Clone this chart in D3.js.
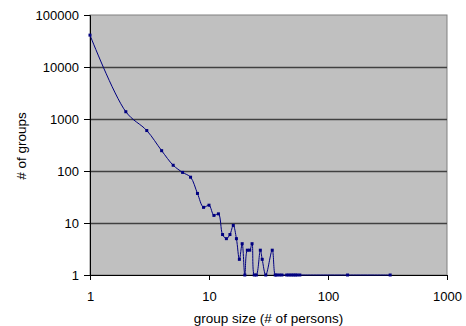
<!DOCTYPE html>
<html>
<head>
<meta charset="utf-8">
<script src="https://cdn.jsdelivr.net/npm/d3@7"></script>
<style>
    body { margin: 0; background: #ffffff; }
    svg text { font-family: "Liberation Sans", Arial, sans-serif; fill: #000; }
</style>
</head>
<body>
<div class="Chart"></div>
<script>
/* global d3 */

// group size (# of persons) and the number of groups of that size
const group_sizes = [1, 2, 3, 4, 5, 6, 7, 8, 9, 10, 11, 12, 13, 14, 15, 16, 17, 18, 19, 20,
    21, 22, 23, 24, 25, 27, 28, 30, 34, 36, 37, 39, 41, 45, 47, 49, 51, 53, 55, 58, 146, 333];
const group_counts = [41000, 1380, 600, 246, 129, 94, 76, 37, 20, 22, 14, 15, 6, 5, 6, 9, 5, 2, 4, 1,
    3, 3, 4, 1, 1, 3, 2, 1, 3, 1, 1, 1, 1, 1, 1, 1, 1, 1, 1, 1, 1, 1];

const x_ticks = [1, 10, 100, 1000];
const y_ticks = [1, 10, 100, 1000, 10000, 100000];

const x_title = "group size (# of persons)";
const y_title = "# of groups";

const width = 466;
const height = 326;
const margin = {top: 15, right: 19, bottom: 51, left: 90};

const plot_width = width - margin.left - margin.right;
const plot_height = height - margin.top - margin.bottom;

const svg = d3.select(".Chart")
    .append("svg")
    .attr("width", width)
    .attr("height", height);

const content = svg.append("g")
    .attr("transform", `translate(${margin.left},${margin.top})`);

const x_axis = d3.scaleLog()
    .domain([1, 1000])
    .range([0, plot_width]);

const y_axis = d3.scaleLog()
    .domain([1, 100000])
    .range([plot_height, 0]);

// plot background and grey frame
content.append("rect")
    .attr("width", plot_width)
    .attr("height", plot_height)
    .attr("fill", "#c0c0c0")
    .attr("stroke", "#808080")
    .attr("stroke-width", 1);

// horizontal gridlines at each decade
content.append("g")
    .selectAll("line")
    .data(y_ticks.slice(1, -1))
    .join("line")
    .attr("x1", 0)
    .attr("x2", plot_width)
    .attr("y1", d => Math.round(y_axis(d)) + 0.5)
    .attr("y2", d => Math.round(y_axis(d)) + 0.5)
    .attr("stroke", "#404040")
    .attr("stroke-width", 1.5);

// axes
const bottom = content.append("g")
    .attr("transform", `translate(0,${plot_height})`)
    .call(d3.axisBottom(x_axis).tickValues(x_ticks).tickFormat(d3.format("d")).tickSize(5).tickPadding(12));

const left = content.append("g")
    .call(d3.axisLeft(y_axis).tickValues(y_ticks).tickFormat(d3.format("d")).tickSize(6).tickPadding(5));

[bottom, left].forEach(axis => {
    axis.select(".domain").attr("stroke", "#000");
    axis.selectAll(".tick line").attr("stroke", "#000");
    axis.selectAll("text").attr("font-size", 13).attr("fill", "#000")
        .attr("font-family", "'Liberation Sans', Arial, sans-serif");
});

// data line
const points = group_sizes.map((size, i) => ({size: size, count: group_counts[i]}));

content.append("clipPath")
    .attr("id", "plot-clip")
    .append("rect")
    .attr("width", plot_width)
    .attr("height", plot_height + 1);

const line = d3.line()
    .x(d => x_axis(d.size))
    .y(d => y_axis(d.count))
    .curve(d3.curveCatmullRom.alpha(0.5));

content.append("path")
    .datum(points)
    .attr("clip-path", "url(#plot-clip)")
    .attr("d", line)
    .attr("fill", "none")
    .attr("stroke", "#000080")
    .attr("stroke-width", 1);

content.append("g")
    .selectAll("rect")
    .data(points)
    .join("rect")
    .attr("x", d => x_axis(d.size) - 1.5)
    .attr("y", d => y_axis(d.count) - 1.5)
    .attr("width", 3)
    .attr("height", 3)
    .attr("fill", "#000080");

// axis titles
svg.append("text")
    .attr("x", margin.left + plot_width / 2)
    .attr("y", 323)
    .attr("text-anchor", "middle")
    .attr("font-size", 13.5)
    .text(x_title);

svg.append("text")
    .attr("transform", `translate(26,146) rotate(-90)`)
    .attr("text-anchor", "middle")
    .attr("font-size", 13.5)
    .text(y_title);
</script>
</body>
</html>
